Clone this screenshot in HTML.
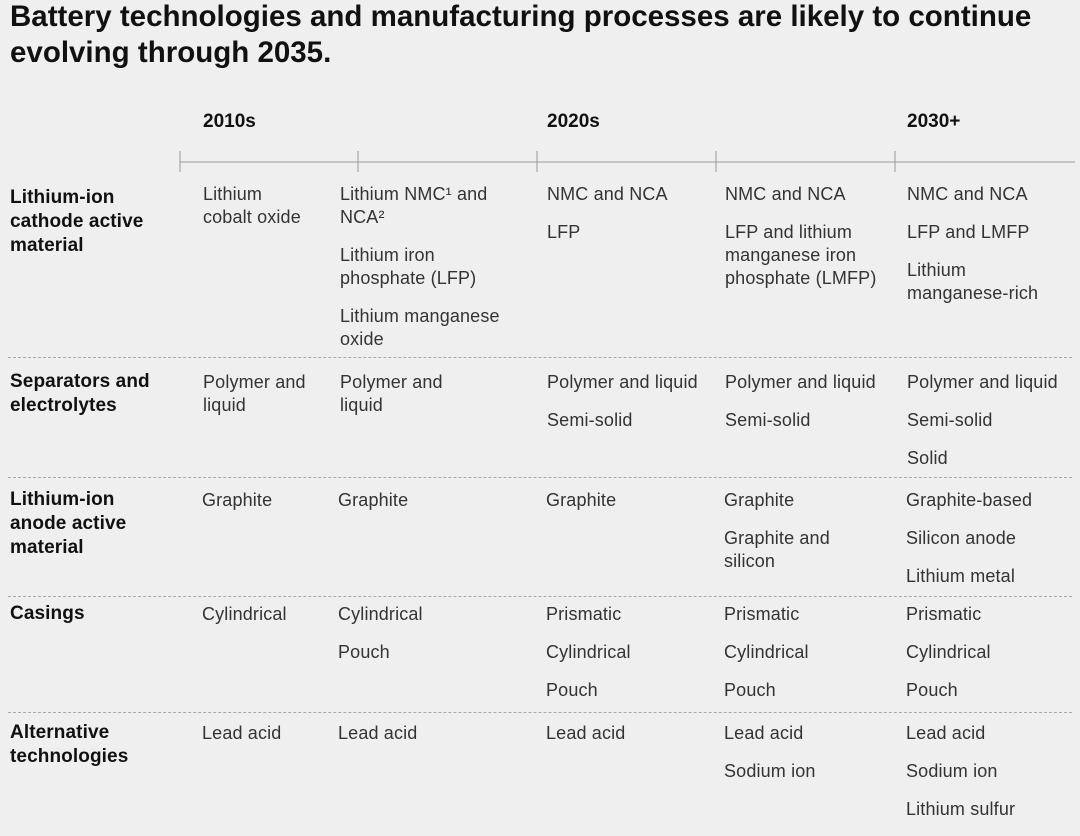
<!DOCTYPE html>
<html><head><meta charset="utf-8"><style>
body{margin:0;width:1080px;height:821px;background:#efefef;overflow:hidden;font-family:"Liberation Sans",Arial,sans-serif;position:relative}
.t{position:absolute;left:10px;top:-1px;font-size:29.5px;font-weight:bold;line-height:36px;color:#111;letter-spacing:0px}
.h{position:absolute;font-size:19px;font-weight:bold;color:#111;line-height:24px}
.l{position:absolute;left:10px;font-size:19px;font-weight:bold;color:#111;line-height:24px;letter-spacing:0.1px}
.c{position:absolute;font-size:18px;line-height:23px;color:#333;letter-spacing:0.15px}
.c div{margin-bottom:15px}
.sep{position:absolute;left:8px;width:1064px;border-top:1px dashed #aaa;height:0}
</style></head><body>
<div class="t">Battery technologies and manufacturing processes are likely to continue<br>evolving through 2035.</div>
<div class="h" style="left:203px;top:110px">2010s</div>
<div class="h" style="left:547px;top:110px">2020s</div>
<div class="h" style="left:907px;top:110px">2030+</div>
<svg style="position:absolute;left:0;top:0" width="1080" height="200">
<line x1="180" y1="162" x2="1075" y2="162" stroke="#999" stroke-width="1"/>
<g stroke="#999"><line x1="180" y1="151" x2="180" y2="172"/><line x1="358" y1="151" x2="358" y2="172"/><line x1="537" y1="151" x2="537" y2="172"/><line x1="716" y1="151" x2="716" y2="172"/><line x1="895" y1="151" x2="895" y2="172"/></g>
</svg>
<div class="sep" style="top:357px"></div>
<div class="sep" style="top:477px"></div>
<div class="sep" style="top:596px"></div>
<div class="sep" style="top:712px"></div>

<div class="l" style="top:186px">Lithium-ion<br>cathode active<br>material</div>
<div class="l" style="top:370px">Separators and<br>electrolytes</div>
<div class="l" style="top:488px">Lithium-ion<br>anode active<br>material</div>
<div class="l" style="top:602px">Casings</div>
<div class="l" style="top:721px">Alternative<br>technologies</div>

<div class="c" style="left:203px;top:183px"><div>Lithium<br>cobalt oxide</div></div>
<div class="c" style="left:340px;top:183px"><div>Lithium NMC¹ and<br>NCA²</div><div>Lithium iron<br>phosphate (LFP)</div><div>Lithium manganese<br>oxide</div></div>
<div class="c" style="left:547px;top:183px"><div>NMC and NCA</div><div>LFP</div></div>
<div class="c" style="left:725px;top:183px"><div>NMC and NCA</div><div>LFP and lithium<br>manganese iron<br>phosphate (LMFP)</div></div>
<div class="c" style="left:907px;top:183px"><div>NMC and NCA</div><div>LFP and LMFP</div><div>Lithium<br>manganese-rich</div></div>

<div class="c" style="left:203px;top:371px"><div>Polymer and<br>liquid</div></div>
<div class="c" style="left:340px;top:371px"><div>Polymer and<br>liquid</div></div>
<div class="c" style="left:547px;top:371px"><div>Polymer and liquid</div><div>Semi-solid</div></div>
<div class="c" style="left:725px;top:371px"><div>Polymer and liquid</div><div>Semi-solid</div></div>
<div class="c" style="left:907px;top:371px"><div>Polymer and liquid</div><div>Semi-solid</div><div>Solid</div></div>

<div class="c" style="left:202px;top:489px"><div>Graphite</div></div>
<div class="c" style="left:338px;top:489px"><div>Graphite</div></div>
<div class="c" style="left:546px;top:489px"><div>Graphite</div></div>
<div class="c" style="left:724px;top:489px"><div>Graphite</div><div>Graphite and<br>silicon</div></div>
<div class="c" style="left:906px;top:489px"><div>Graphite-based</div><div>Silicon anode</div><div>Lithium metal</div></div>

<div class="c" style="left:202px;top:603px"><div>Cylindrical</div></div>
<div class="c" style="left:338px;top:603px"><div>Cylindrical</div><div>Pouch</div></div>
<div class="c" style="left:546px;top:603px"><div>Prismatic</div><div>Cylindrical</div><div>Pouch</div></div>
<div class="c" style="left:724px;top:603px"><div>Prismatic</div><div>Cylindrical</div><div>Pouch</div></div>
<div class="c" style="left:906px;top:603px"><div>Prismatic</div><div>Cylindrical</div><div>Pouch</div></div>

<div class="c" style="left:202px;top:722px"><div>Lead acid</div></div>
<div class="c" style="left:338px;top:722px"><div>Lead acid</div></div>
<div class="c" style="left:546px;top:722px"><div>Lead acid</div></div>
<div class="c" style="left:724px;top:722px"><div>Lead acid</div><div>Sodium ion</div></div>
<div class="c" style="left:906px;top:722px"><div>Lead acid</div><div>Sodium ion</div><div>Lithium sulfur</div></div>
</body></html>
